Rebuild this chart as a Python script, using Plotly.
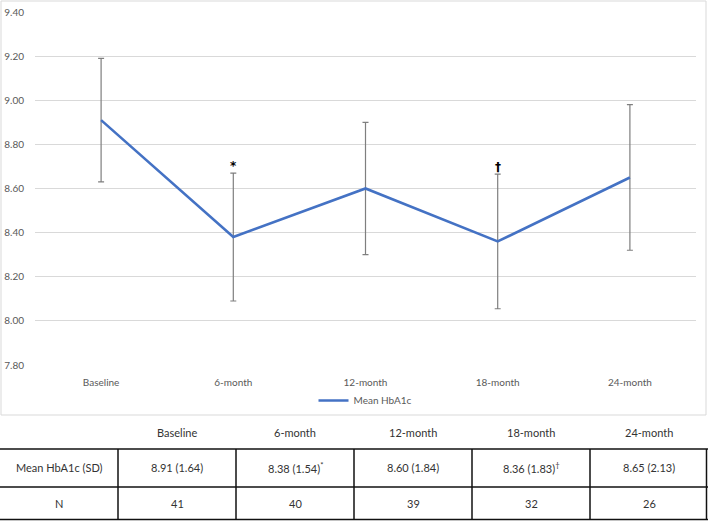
import plotly.graph_objects as go

categories = ["Baseline", "6-month", "12-month", "18-month", "24-month"]
mean_hba1c = [8.91, 8.38, 8.60, 8.36, 8.65]
error_bar = [0.28, 0.29, 0.30, 0.305, 0.33]
sd_values = ["1.64", "1.54", "1.84", "1.83", "2.13"]
n_values = [41, 40, 39, 32, 26]
sig_marks = ["", "*", "", "†", ""]
y_ticks = [7.80, 8.00, 8.20, 8.40, 8.60, 8.80, 9.00, 9.20, 9.40]

W, H = 708, 521
L, R, T, B = 35, 12, 12, 156
PW, PH = W - L - R, H - T - B

def px_x(x):
    return (x - L) / PW

def px_y(y):
    return (H - B - y) / PH

FONT = "Lato, Carlito, Calibri, sans-serif"
MARK_FONT = "DejaVu Sans, Liberation Sans, sans-serif"
AX_COL = "#595959"
GRID = "#d9d9d9"

fig = go.Figure()
fig.add_trace(go.Scatter(
    x=categories, y=mean_hba1c, mode="lines", name="Mean HbA1c",
    line=dict(color="#4472C4", width=2.6),
    error_y=dict(type="data", array=error_bar, visible=True,
                 color="#7f7f7f", thickness=1.2, width=3),
    hoverinfo="skip",
))

annotations = []
for c, m, e, s in zip(categories, mean_hba1c, error_bar, sig_marks):
    if s:
        annotations.append(dict(x=c, y=m + e, xref="x", yref="y", text=f"<b>{s}</b>",
                                showarrow=False, yanchor="bottom", yshift=-2,
                                font=dict(family=MARK_FONT, size=12, color="#000000")))

shapes = []
shapes.append(dict(type="rect", xref="paper", yref="paper",
                   x0=px_x(1), x1=px_x(706), y0=px_y(415), y1=px_y(1),
                   line=dict(color=GRID, width=1), fillcolor="rgba(0,0,0,0)",
                   layer="below"))

col_w = W / 6.0
row_tops = [420, 449, 487, 519.5]
row_text_y = [432.5, 467.5, 503]
tcolor = "#333333"
tfont = dict(family=FONT, size=11, color=tcolor)

def add_text(xpx, ypx, txt):
    annotations.append(dict(x=px_x(xpx), y=px_y(ypx), xref="paper", yref="paper",
                            text=txt, showarrow=False, xanchor="center",
                            yanchor="middle", font=tfont))

for i, c in enumerate(categories):
    cx = col_w * (i + 1.5)
    add_text(cx, row_text_y[0], c)
    mark = f"<sup>{sig_marks[i]}</sup>" if sig_marks[i] else ""
    add_text(cx, row_text_y[1], f"{mean_hba1c[i]:.2f} ({sd_values[i]}){mark}")
    add_text(cx, row_text_y[2], str(n_values[i]))
add_text(col_w * 0.5, row_text_y[1], "Mean HbA1c (SD)")
add_text(col_w * 0.5, row_text_y[2], "N")

for ypx in row_tops[1:]:
    shapes.append(dict(type="line", xref="paper", yref="paper",
                       x0=px_x(0), x1=px_x(W), y0=px_y(ypx), y1=px_y(ypx),
                       line=dict(color="#111111", width=1.5)))
for j in range(1, 7):
    xpx = min(col_w * j, W - 1.5)
    shapes.append(dict(type="line", xref="paper", yref="paper",
                       x0=px_x(xpx), x1=px_x(xpx), y0=px_y(row_tops[1]), y1=px_y(row_tops[3]),
                       line=dict(color="#111111", width=1.5)))

fig.update_layout(
    width=W, height=H,
    margin=dict(l=L, r=R, t=T, b=B, pad=0, autoexpand=False),
    paper_bgcolor="white", plot_bgcolor="white",
    font=dict(family=FONT, size=10, color=AX_COL),
    showlegend=True,
    legend=dict(orientation="h", x=0.5, xanchor="center", y=px_y(400.5), yanchor="middle",
                font=dict(family=FONT, size=10, color=AX_COL),
                bgcolor="rgba(0,0,0,0)"),
    xaxis=dict(range=[-0.5, len(categories) - 0.5], automargin=False,
               showgrid=False, showline=False, zeroline=False,
               ticks="outside", ticklen=8, tickcolor="rgba(0,0,0,0)",
               tickfont=dict(family=FONT, size=10, color=AX_COL)),
    yaxis=dict(range=[7.8, 9.4], tickvals=y_ticks, automargin=False,
               ticktext=[f"{v:.2f}" for v in y_ticks],
               showgrid=True, gridcolor=GRID, gridwidth=1, zeroline=False,
               showline=False, ticks="outside", ticklen=8,
               tickcolor="rgba(0,0,0,0)",
               tickfont=dict(family=FONT, size=10, color=AX_COL)),
    annotations=annotations, shapes=shapes,
)

fig.write_html("out.html", config={"displayModeBar": False},
               post_script="document.body.style.margin='0';document.body.style.overflow='hidden';")
